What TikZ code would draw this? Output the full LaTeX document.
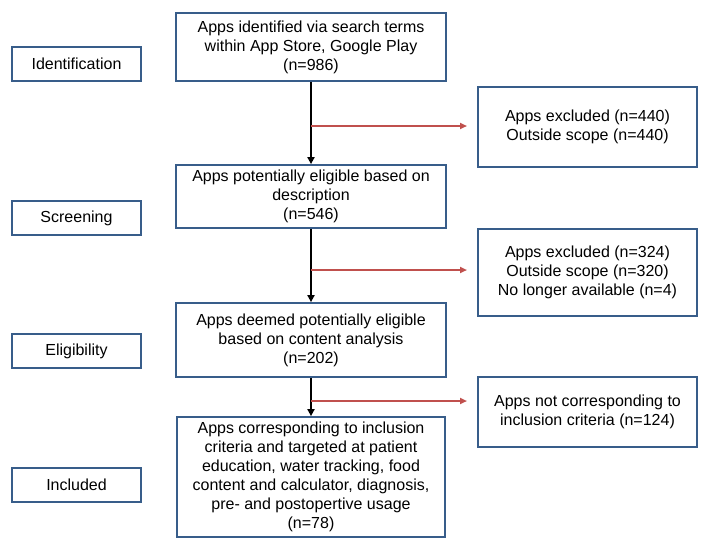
\documentclass[tikz,border=0pt]{standalone}
\usepackage{fontspec}
\setmainfont{Liberation Sans}
\usetikzlibrary{arrows.meta}
\definecolor{boxblue}{RGB}{56,93,138}
\definecolor{arrred}{RGB}{192,80,77}
\begin{document}
\begin{tikzpicture}[x=1pt,y=-1pt,
  box/.style={draw=boxblue, line width=1.8pt, fill=white, align=center, inner sep=2pt,
    font=\fontsize{16}{19}\selectfont},
  stage/.style={box, minimum width=129pt, minimum height=34pt},
  mainbox/.style={box, minimum width=270pt},
  sidebox/.style={box, minimum width=219pt},
  downarrow/.style={draw=black, line width=1.8pt, -{Triangle[length=7pt,width=7pt]}},
  exarrow/.style={draw=arrred, line width=1.8pt, -{Triangle[length=7pt,width=6pt]}}]
\useasboundingbox (0,0) rectangle (706,549);

% stage labels
\node[stage] (st1) at (76.5,64) {Identification};
\node[stage] (st2) at (76.5,218) {Screening};
\node[stage] (st3) at (76.5,351) {Eligibility};
\node[stage] (st4) at (76.5,485) {Included};

% main boxes
\node[mainbox, minimum height=68pt] (b1) at (311,47)
  {Apps identified via search terms\\within App Store, Google Play\\(n=986)};
\node[mainbox, minimum height=63pt] (b2) at (311,196.5)
  {Apps potentially eligible based on\\description\\(n=546)};
\node[mainbox, minimum height=74pt] (b3) at (311,340)
  {Apps deemed potentially eligible\\based on content analysis\\(n=202)};
\node[mainbox, minimum width=268pt, minimum height=120pt] (b4) at (311,477)
  {Apps corresponding to inclusion\\criteria and targeted at patient\\education, water tracking, food\\content and calculator, diagnosis,\\pre- and postopertive usage\\(n=78)};

% side boxes
\node[sidebox, minimum height=80pt] (r1) at (587.5,127)
  {Apps excluded (n=440)\\Outside scope (n=440)};
\node[sidebox, minimum height=87pt] (r2) at (587.5,272.5)
  {Apps excluded (n=324)\\Outside scope (n=320)\\No longer available (n=4)};
\node[sidebox, minimum height=70pt] (r3) at (587.5,412)
  {Apps not corresponding to\\inclusion criteria (n=124)};

% vertical arrows
\draw[downarrow] (b1.south) -- (b2.north);
\draw[downarrow] (b2.south) -- (b3.north);
\draw[downarrow] (b3.south) -- (b4.north);

% exclusion arrows
\coordinate (s1) at (311,126);
\coordinate (e1) at (467,126);
\coordinate (s2) at (311,270);
\coordinate (e2) at (467,270);
\coordinate (s3) at (311,401);
\coordinate (e3) at (467,401);
\draw[exarrow] (s1) -- (e1);
\draw[exarrow] (s2) -- (e2);
\draw[exarrow] (s3) -- (e3);
\end{tikzpicture}
\end{document}
